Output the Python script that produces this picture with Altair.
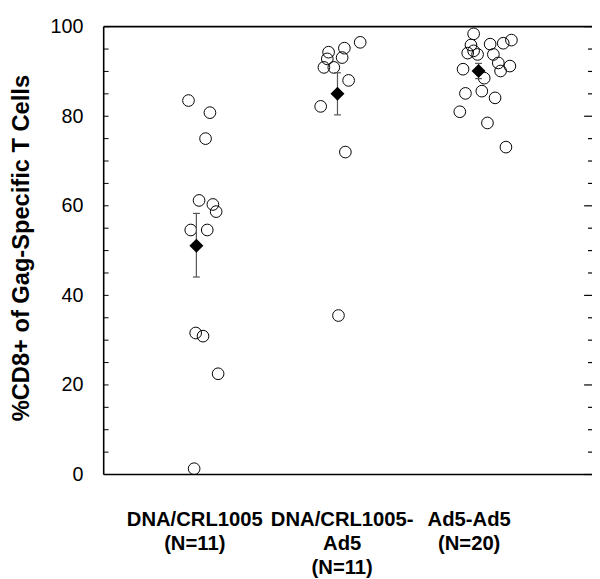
import altair as alt
import pandas as pd

# ---- data ----
group_labels = [["DNA/CRL1005", "(N=11)"],
                ["DNA/CRL1005-", "Ad5", "(N=11)"],
                ["Ad5-Ad5", "(N=20)"]]
label_positions = [0.985, 2.03, 2.93]

g1_x = [0.944, 1.096, 1.065, 1.019, 1.117, 1.140, 0.960, 1.077, 0.995, 1.047, 1.154, 0.984]
g1_y = [83.5, 80.8, 75.0, 61.2, 60.3, 58.7, 54.6, 54.6, 31.6, 30.9, 22.5, 1.3]

g2_x = [2.161, 2.049, 1.937, 2.033, 1.928, 1.904, 1.974, 2.079, 1.881, 2.056, 2.007]
g2_y = [96.5, 95.2, 94.3, 93.1, 92.8, 90.9, 90.9, 88.0, 82.2, 72.0, 35.5]

g3_x = [2.965, 3.082, 3.175, 3.233, 2.946, 2.923, 2.965, 2.993, 3.105, 3.140,
        3.222, 3.156, 2.890, 3.040, 2.907, 3.023, 3.117, 2.867, 3.063, 3.194]
g3_y = [98.4, 96.1, 96.3, 97.0, 95.9, 94.1, 94.6, 93.8, 93.8, 91.9,
        91.2, 90.1, 90.5, 88.5, 85.1, 85.6, 84.1, 81.0, 78.5, 73.1]

group_x = [1.0, 2.0, 3.0]
means = [51.1, 85.0, 90.1]
err_low = [44.1, 80.3, 88.4]
err_high = [58.3, 89.7, 91.8]

y_labels = [0, 20, 40, 60, 80, 100]
y_ticks = list(range(0, 101, 5))

# ---- tables ----
pts = pd.DataFrame({"x": g1_x + g2_x + g3_x, "y": g1_y + g2_y + g3_y})
summ = pd.DataFrame({"x": group_x, "mean": means, "low": err_low, "high": err_high})
caps = pd.DataFrame({"x": group_x * 2, "y": err_low + err_high})
ticks = pd.DataFrame({"v": y_ticks})
ticks["major"] = ticks["v"].isin(y_labels)

W, H = 495, 454
FONT = "Liberation Sans"

label_expr = " : ".join(
    f"datum.value < {p + 0.01} ? {l!r}" for p, l in zip(label_positions[:-1], group_labels[:-1])
) + f" : {group_labels[-1]!r}"

xs = alt.Scale(domain=[0.343, 3.804], nice=False, zero=False)
ys = alt.Scale(domain=[0, 100], nice=False, zero=True)

x_axis = alt.Axis(values=label_positions, labelExpr=label_expr, ticks=False, tickSize=0,
                  domain=False, grid=False, title=None, labelFont=FONT, labelFontSize=20.5,
                  labelFontWeight="bold", labelColor="black", labelPadding=36,
                  labelLineHeight=24, labelBaseline="top")
y_axis = alt.Axis(values=y_labels, ticks=False, tickSize=0, domain=False, grid=False,
                  title="%CD8+ of Gag-Specific T Cells", titleFont=FONT, titleFontSize=24,
                  titleFontWeight="bold", titleColor="black", titleX=-83, titleY=H / 2 - 3,
                  titleAlign="center", titleBaseline="middle", titleAngle=-90,
                  labelFont=FONT, labelFontSize=20, labelColor="black", labelPadding=21)

base_pts = alt.Chart(pts)
circles = base_pts.mark_point(shape="circle", filled=False, color="black", size=140,
                              strokeWidth=1, opacity=1).encode(
    x=alt.X("x:Q", scale=xs, axis=x_axis),
    y=alt.Y("y:Q", scale=ys, axis=y_axis),
)

bars = alt.Chart(summ).mark_rule(color="#555555", strokeWidth=1.2).encode(
    x=alt.X("x:Q", scale=xs), y=alt.Y("low:Q", scale=ys), y2="high:Q")

cap_marks = alt.Chart(caps).mark_point(shape="M-1,0H1", size=49, color="#555555",
                                       strokeWidth=1.2, filled=False, opacity=1).encode(
    x=alt.X("x:Q", scale=xs), y=alt.Y("y:Q", scale=ys))

diamonds = alt.Chart(summ).mark_point(shape="diamond", filled=True, color="black",
                                      size=200, opacity=1).encode(
    x=alt.X("x:Q", scale=xs), y=alt.Y("mean:Q", scale=ys))

left_ticks = alt.Chart(ticks).mark_rule(color="black", strokeWidth=1).encode(
    y=alt.Y("v:Q", scale=ys), x=alt.value(0), x2=alt.value(5))

right_major = alt.Chart(ticks).transform_filter("datum.major").mark_rule(
    color="black", strokeWidth=1.2).encode(
    y=alt.Y("v:Q", scale=ys), x=alt.value(W - 8), x2=alt.value(W))

right_minor = alt.Chart(ticks).transform_filter("!datum.major").mark_rule(
    color="black", strokeWidth=1.2).encode(
    y=alt.Y("v:Q", scale=ys), x=alt.value(W - 4), x2=alt.value(W))

# frame: top, bottom and left edges (right edge lies outside the reference picture)
frame_src = pd.DataFrame({"k": [0]})
frame_top = alt.Chart(frame_src).mark_rule(color="black", strokeWidth=1.6).encode(
    x=alt.value(0), x2=alt.value(W), y=alt.value(0))
frame_bottom = alt.Chart(frame_src).mark_rule(color="black", strokeWidth=1.6).encode(
    x=alt.value(0), x2=alt.value(W), y=alt.value(H))
frame_left = alt.Chart(frame_src).mark_rule(color="black", strokeWidth=1.6).encode(
    x=alt.value(0), y=alt.value(0), y2=alt.value(H))

chart = alt.layer(left_ticks, right_major, right_minor, frame_top, frame_bottom, frame_left,
                  circles, bars, cap_marks, diamonds).properties(
    width=W, height=H,
    autosize=alt.AutoSizeParams(type="none"),
    padding={"left": 97, "top": 15, "right": 0, "bottom": 102},
    background="white",
).configure_view(stroke=None)

chart.save("out.html", embed_options={"renderer": "svg", "actions": False})
